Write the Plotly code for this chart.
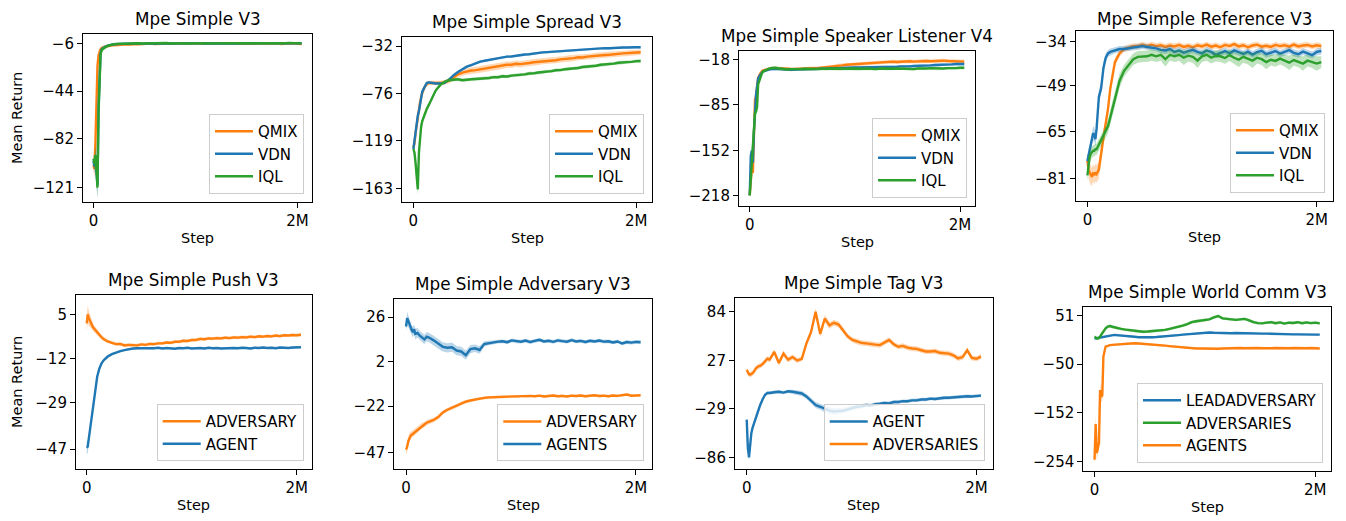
import plotly.graph_objects as go

# ---------------- data ----------------
STEPS_K = [0, 10, 20, 30, 40, 50, 60, 70, 80, 100, 120, 140, 160, 180, 200,
           240, 280, 320, 360, 400, 440, 480, 520, 560, 600,
           640, 680, 720, 760, 800, 840, 880, 920, 960, 1000,
           1040, 1080, 1120, 1160, 1200, 1240, 1280, 1320, 1360, 1400,
           1440, 1480, 1520, 1560, 1600, 1640, 1680, 1720, 1760, 1800,
           1840, 1880, 1920, 1960, 2000, 2040]
STEPS = [k * 1000 for k in STEPS_K]
X_TICKS = [0, 2000000]
X_TICK_TEXT = ["0", "2M"]

# Mpe Simple V3
SIMPLE_QMIX = [-103, -106, -84, -52, -24, -16, -13, -11, -10, -9.2, -8.6, -8.3, -8.0, -7.7, -7.4,
               -7.5, -7.1, -6.9, -7.0, -6.6, -6.8, -6.5, -6.7, -6.3, -6.6,
               -6.4, -6.2, -6.6, -6.3, -6.5, -6.1, -6.4, -6.2, -6.6, -6.3,
               -6.0, -6.4, -6.2, -6.5, -6.1, -6.3, -6.2, -6.6, -6.0, -6.3,
               -6.4, -6.1, -6.3, -6.5, -6.2, -6.0, -6.4, -6.2, -6.3, -6.1,
               -6.5, -6.2, -6.0, -6.3, -6.4, -6.6]
SIMPLE_QMIX_SD = [5, 7, 12, 14, 9, 5, 3, 2.5, 2, 1.5, 1.3, 1.2, 1.1, 1.0, 1.0,
                  0.9, 0.9, 0.8, 0.9, 0.8, 0.8, 0.9, 0.8, 0.8, 0.9,
                  0.8, 0.8, 0.9, 0.8, 0.8, 0.8, 0.9, 0.8, 0.8, 0.8,
                  0.9, 0.8, 0.8, 0.8, 0.9, 0.8, 0.8, 0.8, 0.9, 0.8,
                  0.8, 0.8, 0.9, 0.8, 0.8, 0.8, 0.9, 0.8, 0.8, 0.8,
                  0.9, 0.8, 0.8, 0.8, 0.9, 0.8]
SIMPLE_VDN = [-100, -104, -98, -110, -119, -58, -24, -14, -11, -9.5, -8.6, -7.8, -7.3, -7.0, -6.8,
              -6.6, -6.4, -6.5, -6.2, -6.4, -6.1, -6.3, -6.0, -6.2, -6.4,
              -6.1, -6.3, -6.0, -6.2, -6.1, -6.4, -6.0, -6.2, -6.3, -6.1,
              -5.9, -6.2, -6.0, -6.3, -6.1, -6.0, -6.2, -5.9, -6.1, -6.3,
              -6.0, -6.2, -5.9, -6.1, -6.0, -6.2, -5.8, -6.1, -6.0, -5.9,
              -6.1, -5.8, -6.0, -5.9, -5.8, -6.0]
SIMPLE_VDN_SD = [4, 6, 8, 9, 10, 8, 5, 3, 2, 1.5, 1.2, 1.0, 0.9, 0.9, 0.8,
                 0.7, 0.7, 0.7, 0.7, 0.8, 0.7, 0.7, 0.7, 0.7, 0.8,
                 0.7, 0.7, 0.7, 0.7, 0.8, 0.7, 0.7, 0.7, 0.7, 0.8,
                 0.7, 0.7, 0.7, 0.7, 0.8, 0.7, 0.7, 0.7, 0.7, 0.8,
                 0.7, 0.7, 0.7, 0.7, 0.8, 0.7, 0.7, 0.7, 0.7, 0.8,
                 0.7, 0.7, 0.7, 0.7, 0.8, 0.7]
SIMPLE_IQL = [-98, -102, -95, -112, -121, -62, -27, -15, -11.5, -9.8, -8.8, -8.0, -7.4, -7.0, -6.7,
              -6.5, -6.3, -6.4, -6.1, -6.3, -6.0, -6.2, -6.1, -5.9, -6.2,
              -6.0, -6.1, -5.8, -6.2, -6.0, -6.1, -5.9, -6.2, -6.0, -5.8,
              -6.1, -5.9, -6.1, -6.0, -5.8, -6.2, -5.9, -6.0, -6.1, -5.8,
              -6.0, -5.9, -6.1, -5.8, -6.0, -5.9, -5.7, -6.0, -5.9, -6.1,
              -5.8, -6.0, -5.7, -5.9, -6.0, -6.1]
SIMPLE_IQL_SD = [4, 6, 8, 9, 9, 8, 5, 3, 2, 1.5, 1.2, 1.0, 0.9, 0.9, 0.8,
                 0.7, 0.7, 0.8, 0.7, 0.7, 0.7, 0.8, 0.7, 0.7, 0.7,
                 0.8, 0.7, 0.7, 0.7, 0.8, 0.7, 0.7, 0.7, 0.8, 0.7,
                 0.7, 0.7, 0.8, 0.7, 0.7, 0.7, 0.8, 0.7, 0.7, 0.7,
                 0.8, 0.7, 0.7, 0.7, 0.8, 0.7, 0.7, 0.7, 0.8, 0.7,
                 0.7, 0.7, 0.8, 0.7, 0.7, 0.7]
SIMPLE_TICKS = [-6, -44, -82, -121]

# Mpe Simple Spread V3
SPREAD_QMIX = [-125, -122, -112, -104, -95, -88, -84, -79, -75, -70, -67, -66, -66, -66.5, -66,
               -66, -65.5, -64, -61, -58, -56.5, -55.3, -54.6, -54.2, -53.5,
               -52.6, -52.2, -51.1, -50.7, -50.1, -49.3, -49.2, -48.4, -48.7, -47.8,
               -47.6, -46.9, -46.6, -45.8, -45.6, -45.2, -45.1, -44.3, -44.1, -43.4,
               -43.2, -42.4, -42.6, -41.8, -41.6, -40.9, -40.7, -40.3, -40.1, -39.4,
               -39.2, -38.8, -38.7, -38.3, -38.1, -37.8]
SPREAD_QMIX_SD = [3, 4, 5, 5, 4, 4, 3, 3, 3, 2.5, 2, 2, 2, 2, 2,
                  2, 2.2, 2.5, 2.5, 2.8, 2.8, 3, 3, 3, 3,
                  3, 3, 3, 3, 3, 3, 3, 3, 3, 3,
                  3, 3, 3, 3, 2.8, 2.8, 2.8, 2.8, 2.8, 2.8,
                  2.8, 2.8, 2.6, 2.6, 2.6, 2.6, 2.6, 2.6, 2.6, 2.6,
                  2.5, 2.5, 2.5, 2.5, 2.5, 2.5]
SPREAD_VDN = [-127, -118, -112, -100, -96, -92, -85, -80, -74, -70, -66, -65.5, -66, -66, -66.5,
              -66.5, -66, -63, -59, -56, -53.5, -51, -49.5, -47.6, -46.4,
              -45.6, -44.8, -44.2, -42.9, -42.6, -41.8, -41.6, -40.9, -40.6, -39.8,
              -39.6, -38.9, -38.6, -37.9, -37.6, -37.3, -37.1, -36.4, -36.6, -35.9,
              -35.6, -35.3, -35.1, -34.8, -34.6, -34.3, -34.3, -33.9, -34.1, -33.7,
              -33.7, -33.4, -33.4, -33.1, -33.1, -33.2]
SPREAD_VDN_SD = [4, 4, 5, 5, 4, 4, 3, 3, 2.5, 2, 1.5, 1.2, 1.2, 1.2, 1.2,
                 1.2, 1.2, 1.2, 1.2, 1.2, 1.2, 1.2, 1.2, 1.2, 1.2,
                 1.0, 1.0, 1.0, 1.0, 1.0, 1.0, 1.0, 1.0, 1.0, 1.0,
                 1.0, 1.0, 1.0, 1.0, 1.0, 1.0, 1.0, 1.0, 1.0, 1.0,
                 1.0, 1.0, 1.0, 1.0, 1.0, 1.0, 1.0, 1.0, 1.0, 1.0,
                 1.0, 1.0, 1.0, 1.0, 1.0, 1.0]
SPREAD_IQL = [-127, -130, -140, -155, -164, -130, -115, -106, -101, -95, -90, -86, -82, -77, -73,
              -68, -65, -63.5, -63.2, -62.6, -63.5, -62.8, -62.6, -62.3, -62.1,
              -61.7, -61.4, -60.6, -60.7, -59.8, -60.1, -59.3, -59.1, -58.3, -58.1,
              -57.3, -57.2, -56.4, -56.2, -55.3, -55.1, -54.3, -54.2, -53.4, -53.1,
              -52.3, -52.2, -51.3, -51.1, -50.4, -50.2, -49.3, -49.1, -48.4, -48.2,
              -47.4, -47.2, -46.4, -46.6, -45.9, -45.8]
SPREAD_IQL_SD = [4, 4, 5, 6, 5, 5, 4, 4, 3, 3, 2.5, 2, 2, 2, 2,
                 1.5, 1.5, 1.5, 1.5, 1.5, 1.5, 1.5, 1.5, 1.5, 1.5,
                 1.5, 1.5, 1.5, 1.5, 1.5, 1.5, 1.5, 1.5, 1.5, 1.5,
                 1.5, 1.5, 1.5, 1.5, 1.5, 1.5, 1.5, 1.5, 1.5, 1.5,
                 1.5, 1.5, 1.5, 1.5, 1.5, 1.5, 1.5, 1.5, 1.5, 1.5,
                 1.5, 1.5, 1.5, 1.5, 1.5, 1.5]
SPREAD_TICKS = [-32, -76, -119, -163]

# Mpe Simple Speaker Listener V4
SL_QMIX = [-218, -195, -175, -185, -110, -78, -72, -60, -45, -39, -35, -34, -33, -32, -31.5,
           -31, -31, -32, -32, -32.5, -32, -31.5, -32, -31.5, -31,
           -31, -30.5, -30, -29.5, -28.5, -27.5, -27, -26, -25.5, -25,
           -24.5, -24, -23.5, -23, -22.5, -22.5, -22, -22, -21.5, -22,
           -21.5, -21.5, -21, -21.5, -21, -21, -20.5, -21, -20.5, -20.5,
           -20, -20.5, -21, -21.5, -21, -21.5]
SL_QMIX_SD = [2, 8, 10, 12, 15, 10, 6, 5, 4, 3, 2.5, 2.5, 2.5, 2.5, 2.5,
              2.5, 2.5, 2.5, 2.5, 2.5, 2.5, 2.5, 2.5, 2.5, 2.5,
              2.5, 2.5, 2.5, 2.5, 2.5, 2.8, 2.8, 2.8, 2.8, 2.8,
              2.8, 2.8, 2.8, 2.8, 2.8, 2.8, 2.8, 2.8, 2.8, 2.8,
              2.8, 2.8, 2.8, 2.8, 2.8, 2.8, 2.8, 2.8, 2.8, 2.8,
              2.8, 2.8, 2.8, 2.8, 2.8, 2.8]
SL_VDN = [-218, -160, -152, -170, -125, -85, -70, -58, -46, -41, -37, -35, -34, -33, -32.5,
          -32, -32.5, -33, -33, -33.5, -33, -32.5, -33, -32.5, -32.5,
          -32, -32, -31.5, -31.5, -31, -31, -30.5, -30.5, -30.5, -30,
          -30, -30, -29.5, -30, -29.5, -29.5, -29, -29.5, -29, -29,
          -28.5, -29, -28.5, -28, -28, -27.5, -27.5, -27, -26.5, -26.5,
          -26, -25.5, -25.5, -25, -25, -25]
SL_VDN_SD = [2, 6, 8, 10, 12, 10, 6, 5, 4, 3, 2.5, 2, 2, 2, 2,
             2, 2, 2, 2, 2, 2, 2, 2, 2, 2,
             2, 2, 2, 2, 2, 2, 2, 2, 2, 2,
             2, 2, 2, 2, 2, 2, 2, 2, 2, 2,
             2, 2, 2, 2, 2, 2, 2, 2, 2, 2,
             2, 2, 2, 2, 2, 2]
SL_IQL = [-218, -195, -168, -140, -115, -97, -95, -88, -55, -44, -37, -35, -33, -32, -31,
          -30.5, -31.5, -32.5, -33, -32.5, -33, -32.5, -32, -32.5, -32,
          -32.5, -32, -32.5, -32, -31.5, -32, -32.5, -32, -31.5, -32,
          -32.5, -32, -31.5, -32, -32.5, -31.5, -32, -32.5, -32, -31.5,
          -32, -31.5, -32, -32.5, -31.5, -32, -31.5, -31, -31.5, -32,
          -31.5, -31, -31.5, -31, -30.5, -30.5]
SL_IQL_SD = [2, 6, 8, 10, 10, 8, 6, 5, 4, 3, 2.5, 2, 2, 2, 2,
             2, 2, 2, 2, 2, 2, 2, 2, 2, 2,
             2, 2, 2, 2, 2, 2, 2, 2, 2, 2,
             2, 2, 2, 2, 2, 2, 2, 2, 2, 2,
             2, 2, 2, 2, 2, 2, 2, 2, 2, 2,
             2, 2, 2, 2, 2, 2]
SL_TICKS = [-18, -85, -152, -218]

# Mpe Simple Reference V3
REF_QMIX = [-75, -78, -79, -80, -80.5, -79, -80, -79, -79.5, -78, -72, -67, -62, -57, -50,
            -41, -38, -36.5, -36, -35.5, -35.5, -35, -35.5, -35, -35.5,
            -35.2, -35.8, -35.3, -35.6, -35.1, -35.8, -35.4, -35.9, -35.2, -35.6,
            -35.0, -35.7, -35.3, -35.9, -35.1, -35.5, -34.8, -35.6, -35.2, -35.9,
            -35.3, -35.0, -35.7, -35.4, -35.8, -35.1, -35.5, -35.2, -35.7, -35.0,
            -35.6, -35.3, -35.1, -35.6, -35.2, -35.5]
REF_QMIX_SD = [2, 3, 3.5, 3.5, 3, 3, 3, 3, 3, 3, 2.5, 2.5, 2, 2, 2,
               1.5, 1.2, 1, 1, 1, 1, 1, 1, 1, 1,
               1, 1, 1, 1, 1, 1, 1, 1, 1, 1,
               1, 1, 1, 1, 1, 1, 1, 1, 1, 1,
               1, 1, 1, 1, 1, 1, 1, 1, 1, 1,
               1, 1, 1, 1, 1, 1]
REF_VDN = [-75, -73, -72, -70, -67, -65.5, -66, -67.5, -64, -53, -50, -43, -39.5, -38, -37.5,
           -37, -36.5, -36.5, -36.2, -36, -35.8, -35.5, -35.8, -36, -36.3,
           -36.8, -37, -36.5, -37.5, -37, -37.8, -37.2, -36.8, -37.5, -38,
           -37, -37.5, -38.5, -37.8, -37.2, -38, -37, -37.6, -38.2, -37.4,
           -38.4, -37.6, -37.1, -38.3, -37.7, -37.2, -38.1, -37.5, -36.9, -37.8,
           -38.3, -37.4, -37.9, -38.6, -37.5, -37.2]
REF_VDN_SD = [2, 2.5, 2.5, 2.5, 2.5, 2.5, 2.5, 2.5, 2.5, 2.5, 2, 2, 1.5, 1.2, 1.2,
              1, 1, 1, 1, 1, 1, 1, 1, 1, 1,
              1.2, 1.2, 1.2, 1.2, 1.2, 1.2, 1.2, 1.2, 1.2, 1.2,
              1.2, 1.2, 1.2, 1.2, 1.2, 1.2, 1.2, 1.2, 1.2, 1.2,
              1.2, 1.2, 1.2, 1.2, 1.2, 1.2, 1.2, 1.2, 1.2, 1.2,
              1.2, 1.2, 1.2, 1.2, 1.2, 1.2]
REF_IQL = [-80, -76, -73.5, -72.5, -72, -71.5, -71.5, -71, -71, -69.5, -68, -66.5, -65, -63, -60,
           -53.5, -47.5, -44, -42, -40, -39.2, -39, -39, -38.5, -39,
           -38.5, -40, -38.5, -39, -38.5, -39.5, -38.8, -39.2, -40.5, -39,
           -38.5, -39.5, -38.8, -39, -39.6, -38.6, -39.5, -40.2, -39.2, -39.8,
           -40.5, -39.5, -40, -41, -40.2, -40.6, -39.8, -40.5, -41.2, -40.3,
           -40.8, -41.5, -40.5, -41, -41.5, -41]
REF_IQL_SD = [2, 2.5, 2.5, 2, 2, 2, 2, 2, 2, 2, 2, 2, 2, 2.5, 2.5,
              2.5, 2.5, 2, 2, 2, 2, 2, 2, 2, 2,
              2, 2.5, 2, 2, 2, 2.5, 2, 2, 2.5, 2,
              2, 2, 2, 2, 2, 2, 2, 2.5, 2, 2,
              2.5, 2, 2, 2.5, 2, 2, 2, 2, 2.5, 2,
              2, 2.5, 2, 2, 2.5, 2]
REF_TICKS = [-34, -49, -65, -81]

# Mpe Simple Push V3
PUSH_ADV = [1.5, 5, 3.5, 2.5, 2, 1, 0, -0.5, -1, -2, -3, -3.8, -4.5, -5, -5.5,
            -6, -6.5, -6.4, -7, -6.8, -6.9, -7, -6.6, -6.8, -6.4,
            -6.5, -6.2, -6.2, -5.9, -6, -5.6, -5.6, -5.2, -5.3, -4.9,
            -4.9, -4.5, -4.6, -4.3, -4.4, -4.2, -4.3, -4.0, -4.2, -3.9,
            -4.0, -3.8, -3.9, -3.6, -3.8, -3.5, -3.6, -3.4, -3.5, -3.2,
            -3.4, -3.1, -3.2, -3.0, -3.1, -2.9]
PUSH_ADV_SD = [3, 3.5, 3, 2.5, 2, 1.8, 1.5, 1.3, 1.2, 1, 0.9, 0.8, 0.8, 0.7, 0.7,
               0.6, 0.6, 0.6, 0.6, 0.6, 0.6, 0.6, 0.6, 0.6, 0.6,
               0.6, 0.6, 0.6, 0.6, 0.6, 0.6, 0.6, 0.6, 0.6, 0.6,
               0.6, 0.6, 0.6, 0.6, 0.6, 0.6, 0.6, 0.6, 0.6, 0.6,
               0.6, 0.6, 0.6, 0.6, 0.6, 0.6, 0.6, 0.6, 0.6, 0.6,
               0.6, 0.6, 0.6, 0.6, 0.6, 0.6]
PUSH_AGENT = [-46.5, -46, -43, -40, -36, -33, -30, -27, -24.5, -19, -16, -14, -12.8, -12, -11.3,
              -10.4, -9.7, -9.2, -8.8, -8.4, -8.2, -8.1, -8.1, -8.0, -8.2,
              -8.1, -7.9, -8.2, -8.0, -8.1, -8.3, -8.0, -8.1, -7.9, -8.2,
              -8.1, -8.0, -8.2, -7.9, -8.1, -8.0, -8.2, -8.1, -7.9, -8.0,
              -8.1, -7.9, -8.0, -8.2, -7.9, -8.0, -7.8, -8.0, -7.9, -8.1,
              -7.8, -7.9, -8.0, -7.8, -7.7, -7.7]
PUSH_AGENT_SD = [2.5, 2.5, 2, 2, 2, 1.8, 1.5, 1.5, 1.3, 1.2, 1, 0.8, 0.7, 0.6, 0.6,
                 0.4, 0.4, 0.4, 0.4, 0.4, 0.4, 0.4, 0.4, 0.4, 0.4,
                 0.4, 0.4, 0.4, 0.4, 0.4, 0.4, 0.4, 0.4, 0.4, 0.4,
                 0.4, 0.4, 0.4, 0.4, 0.4, 0.4, 0.4, 0.4, 0.4, 0.4,
                 0.4, 0.4, 0.4, 0.4, 0.4, 0.4, 0.4, 0.4, 0.4, 0.4,
                 0.4, 0.4, 0.4, 0.4, 0.4, 0.4]
PUSH_TICKS = [5, -12, -29, -47]

# Mpe Simple Adversary V3
ADV_ADVERSARY = [-45.5, -44, -41, -39, -38, -37.5, -37, -36, -35.5, -34.5, -33.5, -32.5, -32, -31, -30.5,
                 -29.5, -28, -25.5, -24, -22.8, -22, -20.5, -19.6, -19, -18.4,
                 -17.9, -17.6, -17.3, -17.2, -17, -16.9, -16.9, -16.7, -16.9, -16.6,
                 -16.8, -16.5, -16.7, -16.4, -16.8, -16.6, -16.3, -16.7, -16.5, -16.8,
                 -16.4, -16.6, -16.3, -16.7, -16.5, -16.2, -16.6, -16.4, -16.7, -16.3,
                 -16.5, -16.2, -15.8, -16.4, -16.1, -16.2]
ADV_ADVERSARY_SD = [2.5, 3, 2.5, 2.5, 2, 2, 2, 2, 1.8, 1.8, 1.6, 1.5, 1.5, 1.4, 1.3,
                    1.2, 1.2, 1.1, 1, 1, 0.9, 0.9, 0.8, 0.8, 0.8,
                    0.7, 0.7, 0.7, 0.7, 0.7, 0.7, 0.7, 0.7, 0.7, 0.7,
                    0.7, 0.7, 0.7, 0.7, 0.7, 0.7, 0.7, 0.7, 0.7, 0.7,
                    0.7, 0.7, 0.7, 0.7, 0.7, 0.7, 0.7, 0.7, 0.7, 0.7,
                    0.7, 0.7, 0.7, 0.7, 0.7, 0.7]
ADV_AGENTS = [21, 25.5, 24, 22, 20, 19, 18, 19.5, 17, 17.5, 16, 15, 14, 15.5, 15,
              13.5, 11.5, 10, 9.5, 9.8, 8, 7.5, 5.5, 8.8, 9.2,
              8.3, 11.5, 12, 12.5, 12.8, 13, 12.5, 13.5, 13, 12.8,
              13.4, 12.6, 13.2, 13.8, 12.9, 13.3, 12.7, 13.5, 13.1, 12.8,
              13.6, 12.9, 13.2, 12.6, 13.3, 12.9, 13.4, 12.8, 13, 12.4,
              12.9, 11.8, 12.6, 12.3, 12.7, 12.5]
ADV_AGENTS_SD = [2.5, 3.5, 3, 3, 3, 2.5, 3, 2.5, 3, 2.5, 2.5, 2.5, 2.5, 2.5, 2.5,
                 2.5, 2.5, 2.5, 2.5, 2.5, 2.5, 2.5, 2.5, 2.2, 2,
                 2, 1.5, 1.2, 1, 1, 1, 1, 1, 1, 1,
                 1, 1, 1, 1, 1, 1, 1, 1, 1, 1,
                 1, 1, 1, 1, 1, 1, 1, 1, 1, 1,
                 1, 1, 1, 1, 1, 1]
ADV_TICKS = [26, 2, -22, -47]

# Mpe Simple Tag V3
TAG_AGENT = [-42, -75, -86, -70, -58, -52, -48, -42, -38, -30, -24, -18, -13, -11, -11,
             -10, -9.5, -10.5, -9, -9.5, -10.5, -11.5, -15, -20, -25,
             -27, -29.5, -31.5, -32.5, -32, -31.5, -30, -28.5, -27, -26.5,
             -25, -25.5, -24, -23.5, -22.5, -23, -21.5, -21.5, -20.5, -20.5,
             -19.5, -19.5, -18.5, -18.5, -17.5, -18, -17, -16.5, -16.5, -16,
             -15.5, -15.5, -14.8, -15, -14.2, -14]
TAG_AGENT_SD = [3, 5, 4, 4, 4, 4, 3, 3, 3, 3, 2.5, 2, 2, 2, 2,
                2, 2, 2, 2, 2.5, 3, 3, 3, 3, 3.5,
                3.5, 4, 4, 4, 3.5, 3, 3, 2.5, 2.5, 2.5,
                2, 2, 2, 2, 2, 2, 2, 2, 2, 2,
                2, 2, 2, 2, 2, 2, 2, 2, 2, 2,
                2, 2, 2, 2, 2, 2]
TAG_ADV = [16, 13, 11, 10.5, 11, 12, 13.5, 16, 18, 20, 21, 23, 26, 29, 28,
           37, 24, 35, 28, 31, 27, 29, 47, 60, 84,
           58, 76, 68, 71, 69, 62, 55, 51, 49, 47.5,
           47, 46, 45.5, 45, 48, 51, 46, 43, 44, 42,
           41, 40.5, 39, 37.5, 37.5, 38, 36, 35.5, 35, 33,
           29.5, 31, 39, 30, 29, 31.5]
TAG_ADV_SD = [3, 3, 3, 3, 3, 3, 3, 3, 3, 3, 3, 3, 3, 3, 3,
              3, 3, 3, 3, 3, 3, 3, 3.5, 4, 4,
              4, 4, 4, 3.5, 3.5, 3.5, 3, 3, 3, 3,
              3, 3, 3, 3, 3, 3, 3, 3, 3, 3,
              3, 3, 3, 3, 3, 3, 3, 3, 3, 3,
              3, 3, 3, 3, 3, 3]
TAG_TICKS = [84, 27, -29, -86]

# Mpe Simple World Comm V3
WC_LEAD = [4.5, 3.5, 4, 5, 5.5, 6, 7, 7.5, 8, 9, 10, 11, 11, 11.5, 11,
           10.5, 9.5, 8.5, 7.5, 6.5, 6, 6, 6.5, 7, 7.5,
           8, 9, 10, 11, 12, 13, 14, 15, 15.5, 16,
           16.5, 16, 15.5, 15.5, 15, 15, 15.5, 15, 14.5, 14.5,
           15, 14.5, 14, 14, 13.5, 13.5, 13, 13, 12.5, 12.5,
           12.5, 12, 12, 12, 12, 12]
WC_LEAD_SD = [2, 2, 2, 2, 2, 2, 2, 2, 2, 2, 2, 2, 2, 2, 2,
              2, 2, 2, 2, 2, 2, 2, 2, 2, 2,
              2, 2, 2, 2, 2, 2, 2, 2, 2, 2,
              2, 2, 2, 2, 2, 2, 2, 2, 2, 2,
              2, 2, 2, 2, 2, 2, 2, 2, 2, 2,
              2, 2, 2, 2, 2, 2]
WC_ADVS = [7.5, 5.5, 4.5, 4, 5, 8, 12, 16, 19, 25, 29, 30, 28.5, 27, 25.5,
           24, 22.5, 21, 19.5, 18.5, 18, 18.5, 19, 20, 21,
           22, 24, 26, 29, 31, 34, 38, 40, 41, 42,
           44, 48, 51, 46, 45, 44, 43, 44, 45, 42,
           38, 36, 35.5, 37, 38, 36, 37.5, 35, 37, 36.5,
           38, 36, 37.5, 36, 37, 35.5]
WC_ADVS_SD = [3, 3, 3, 3, 3, 3, 3, 3, 3, 3, 3, 3, 3, 3, 3,
              3, 3, 3, 3, 3, 3, 3, 3, 3, 3,
              3, 3, 3, 3, 3, 3, 3, 3, 3, 3,
              3, 3, 3, 3, 3, 3, 3, 3, 3, 3,
              3, 3, 3, 3, 3, 3, 3, 3, 3, 3,
              3, 3, 3, 3, 3, 3]
WC_AGENTS = [-250, -175, -236, -222, -215, -104, -118, -115, -34, -13, -11, -10, -9.5, -9, -8.5,
             -7.5, -6.5, -6, -6, -6.5, -7, -8, -9, -9.5, -10,
             -11, -12, -13, -14, -15, -16, -16.5, -17, -17, -17.5,
             -17, -17, -17.5, -17, -16.5, -17, -16.5, -16, -16.5, -16,
             -16.5, -16, -16.5, -17, -16.5, -16, -16.5, -17, -16.5, -16,
             -16.5, -17, -16.5, -16, -17, -17]
WC_AGENTS_SD = [8, 20, 15, 15, 15, 15, 12, 10, 8, 3, 2, 2, 2, 2, 2,
                2, 2, 2, 2, 2, 2, 2, 2, 2, 2,
                2, 2, 2, 2, 2, 2, 2, 2, 2, 2,
                2, 2, 2, 2, 2, 2, 2, 2, 2, 2,
                2, 2, 2, 2, 2, 2, 2, 2, 2, 2,
                2, 2, 2, 2, 2, 2]
WC_TICKS = [51, -50, -152, -254]

# ---------------- styling ----------------
BLUE, ORANGE, GREEN = "#1f77b4", "#ff7f0e", "#2ca02c"
FILL = {BLUE: "rgba(31,119,180,0.3)", ORANGE: "rgba(255,127,14,0.3)", GREEN: "rgba(44,160,44,0.3)"}
PAGE_OFF = 8                     # browser default body margin
W, H = 1346 - PAGE_OFF, 521 - PAGE_OFF
FONT = "DejaVu Sans"
TICK_SIZE, LABEL_SIZE, TITLE_SIZE = 15, 14.5, 16.8


def px(v):
    return (v - PAGE_OFF) / W


def py(v):
    return 1 - (v - PAGE_OFF) / H


def minus(v):
    return str(v).replace("-", "\u2212")


panels = [
    dict(title="Mpe Simple V3", ticks=SIMPLE_TICKS, box=(83, 312, 34, 202), yr=(-132.4, 1.4), ylabel=True,
         series=[("QMIX", SIMPLE_QMIX, SIMPLE_QMIX_SD, ORANGE), ("VDN", SIMPLE_VDN, SIMPLE_VDN_SD, BLUE),
                 ("IQL", SIMPLE_IQL, SIMPLE_IQL_SD, GREEN)]),
    dict(title="Mpe Simple Spread V3", ticks=SPREAD_TICKS, box=(402, 652, 37, 202), yr=(-175.6, -23.7), ylabel=False,
         series=[("QMIX", SPREAD_QMIX, SPREAD_QMIX_SD, ORANGE), ("VDN", SPREAD_VDN, SPREAD_VDN_SD, BLUE),
                 ("IQL", SPREAD_IQL, SPREAD_IQL_SD, GREEN)]),
    dict(title="Mpe Simple Speaker Listener V4", ticks=SL_TICKS, box=(739, 975, 50.7, 206), yr=(-233.7, -5.4), ylabel=False,
         series=[("QMIX", SL_QMIX, SL_QMIX_SD, ORANGE), ("VDN", SL_VDN, SL_VDN_SD, BLUE),
                 ("IQL", SL_IQL, SL_IQL_SD, GREEN)]),
    dict(title="Mpe Simple Reference V3", ticks=REF_TICKS, box=(1075.7, 1333, 30.7, 201), yr=(-88.8, -30.2), ylabel=False,
         series=[("QMIX", REF_QMIX, REF_QMIX_SD, ORANGE), ("VDN", REF_VDN, REF_VDN_SD, BLUE),
                 ("IQL", REF_IQL, REF_IQL_SD, GREEN)]),
    dict(title="Mpe Simple Push V3", ticks=PUSH_TICKS, box=(76, 311.7, 295, 469), yr=(-54.7, 12.45), ylabel=True,
         series=[("ADVERSARY", PUSH_ADV, PUSH_ADV_SD, ORANGE), ("AGENT", PUSH_AGENT, PUSH_AGENT_SD, BLUE)]),
    dict(title="Mpe Simple Adversary V3", ticks=ADV_TICKS, box=(394.3, 652.3, 299.3, 469.3), yr=(-56.2, 35.7), ylabel=False,
         series=[("ADVERSARY", ADV_ADVERSARY, ADV_ADVERSARY_SD, ORANGE), ("AGENTS", ADV_AGENTS, ADV_AGENTS_SD, BLUE)]),
    dict(title="Mpe Simple Tag V3", ticks=TAG_TICKS, box=(735, 992.7, 298.3, 469.3), yr=(-100, 99.6), ylabel=False,
         series=[("AGENT", TAG_AGENT, TAG_AGENT_SD, BLUE), ("ADVERSARIES", TAG_ADV, TAG_ADV_SD, ORANGE)]),
    dict(title="Mpe Simple World Comm V3", ticks=WC_TICKS, box=(1083.3, 1331, 307.3, 471), yr=(-273.5, 69.2), ylabel=False,
         series=[("LEADADVERSARY", WC_LEAD, WC_LEAD_SD, BLUE), ("ADVERSARIES", WC_ADVS, WC_ADVS_SD, GREEN),
                 ("AGENTS", WC_AGENTS, WC_AGENTS_SD, ORANGE)]),
]

fig = go.Figure()
layout = dict(width=W, height=H, margin=dict(l=0, r=0, t=0, b=0), template="none",
              paper_bgcolor="white", plot_bgcolor="white", showlegend=True,
              font=dict(family=FONT, size=TICK_SIZE, color="black"), annotations=[])

for i, p in enumerate(panels, start=1):
    sfx = "" if i == 1 else str(i)
    xa, ya, leg = "x" + sfx, "y" + sfx, "legend" + sfx
    for name, m, sd, c in p["series"]:
        assert len(m) == len(STEPS) and len(sd) == len(STEPS), name
        up = [a + b for a, b in zip(m, sd)]
        lo = [a - b for a, b in zip(m, sd)]
        fig.add_trace(go.Scatter(x=STEPS + STEPS[::-1], y=up + lo[::-1], fill="toself",
                                 fillcolor=FILL[c], line=dict(width=0), mode="lines",
                                 hoverinfo="skip", showlegend=False, xaxis=xa, yaxis=ya))
        fig.add_trace(go.Scatter(x=STEPS, y=m, mode="lines", name=name, line=dict(color=c, width=2.4),
                                 legend=leg, xaxis=xa, yaxis=ya))
    l, r, t, b = p["box"]
    axis_common = dict(showline=True, mirror=True, linecolor="black", linewidth=1.1, ticks="outside",
                       ticklen=5, tickwidth=1.1, tickcolor="black", showgrid=False, zeroline=False,
                       tickfont=dict(family=FONT, size=TICK_SIZE, color="black"))
    layout["xaxis" + sfx] = dict(domain=[px(l), px(r)], anchor=ya, range=[-102000, 2142000],
                                 tickvals=X_TICKS, ticktext=X_TICK_TEXT, **axis_common)
    layout["yaxis" + sfx] = dict(domain=[py(b), py(t)], anchor=xa, range=list(p["yr"]),
                                 tickvals=p["ticks"], ticktext=[minus(v) for v in p["ticks"]], **axis_common)
    layout[leg] = dict(x=px(r - 8), y=py(b - 8), xanchor="right", yanchor="bottom", itemwidth=38,
                       bgcolor="rgba(255,255,255,0.8)", bordercolor="#cccccc", borderwidth=1,
                       font=dict(family=FONT, size=TICK_SIZE, color="black"))
    title_y = max(t - 15, 18.5)
    layout["annotations"].append(dict(text=p["title"], x=px((l + r) / 2), y=py(title_y),
                                      xref="paper", yref="paper", showarrow=False, xanchor="center",
                                      yanchor="middle", font=dict(family=FONT, size=TITLE_SIZE, color="black")))
    layout["annotations"].append(dict(text="Step", x=px((l + r) / 2), y=py(b + 36),
                                      xref="paper", yref="paper", showarrow=False, xanchor="center",
                                      yanchor="middle", font=dict(family=FONT, size=LABEL_SIZE, color="black")))
    if p["ylabel"]:
        layout["annotations"].append(dict(text="Mean Return", x=px(17), y=py((t + b) / 2),
                                          xref="paper", yref="paper", showarrow=False, textangle=-90,
                                          xanchor="center", yanchor="middle",
                                          font=dict(family=FONT, size=LABEL_SIZE, color="black")))

fig.update_layout(**layout)
fig.write_html("out.html")
